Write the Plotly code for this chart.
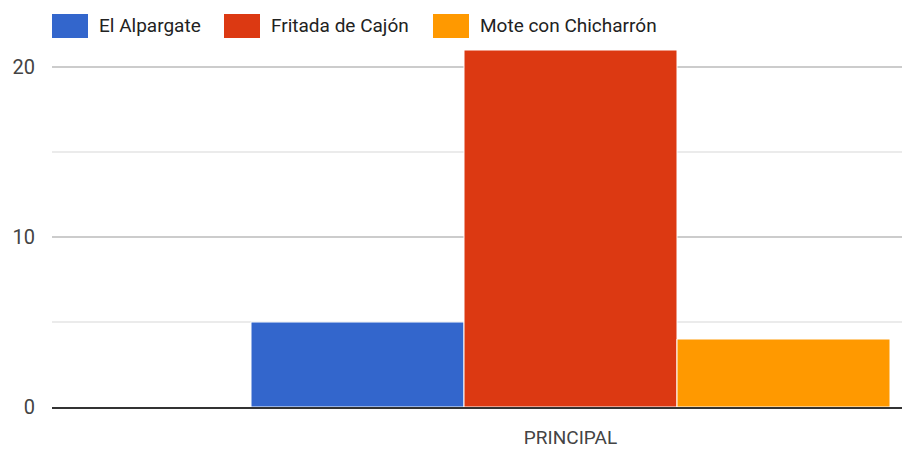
import plotly.graph_objects as go

categories = ["PRINCIPAL"]
series_names = ["El Alpargate", "Fritada de Cajón", "Mote con Chicharrón"]
el_alpargate = [5]
fritada_de_cajon = [21]
mote_con_chicharron = [4]
y_ticks = [0, 10, 20]

series_values = [el_alpargate, fritada_de_cajon, mote_con_chicharron]
colors = ["#3366cc", "#dc3912", "#ff9900"]

W, H = 902, 452
ML, MR, MT, MB = 52, 0, 0, 45
PW, PH = W - ML - MR, H - MT - MB
FONT = "Roboto, Arial, sans-serif"

fig = go.Figure()
for name, vals, col in zip(series_names, series_values, colors):
    fig.add_trace(go.Bar(
        x=categories, y=vals, name=name,
        marker=dict(color=col, line=dict(color="white", width=1)),
        showlegend=False, hoverinfo="skip",
    ))

# category placement: center of group at pixel 570.5, group width ~639px
bargap = 0.382
unit = 639 / (1 - bargap)
center_px = 570.5
xr = [-(center_px - ML) / unit, (ML + PW - center_px) / unit]

px_per_unit = 17.0
yr = [0, PH / px_per_unit]

fig.update_layout(
    width=W, height=H,
    margin=dict(l=ML, r=MR, t=MT, b=MB),
    paper_bgcolor="white", plot_bgcolor="white",
    barmode="group", bargap=bargap, bargroupgap=0,
    font=dict(family=FONT, size=19, color="#444444"),
    xaxis=dict(
        type="category", range=xr, showgrid=False,
        showline=True, linecolor="#333333", linewidth=2,
        ticks="", tickfont=dict(size=19, color="#444444"),
        ticklabelstandoff=12,
    ),
    yaxis=dict(
        range=yr, tickvals=y_ticks, showgrid=True,
        gridcolor="#cccccc", gridwidth=1.5, zeroline=False,
        ticks="", tickfont=dict(size=20, color="#444444"),
        ticklabelstandoff=16,
        minor=dict(dtick=5, showgrid=True, gridcolor="#ebebeb", gridwidth=1.5),
    ),
)

# legend drawn at top (Google-style large swatches)
legend_x = [52, 224, 433]
sw_w, sw_h, sw_top = 36, 24, 14
text_gap = 9
def px_to_paper(px, py):
    return (px - ML) / PW, 1 - (py - MT) / PH

for name, col, lx in zip(series_names, colors, legend_x):
    x0, y0 = px_to_paper(lx, sw_top)
    x1, y1 = px_to_paper(lx + sw_w, sw_top + sw_h)
    fig.add_shape(type="rect", xref="paper", yref="paper",
                  x0=x0, x1=x1, y0=y1, y1=y0,
                  fillcolor=col, line=dict(width=0), layer="above")
    tx, ty = px_to_paper(lx + sw_w + text_gap, sw_top + sw_h / 2)
    fig.add_annotation(xref="paper", yref="paper", x=tx, y=ty,
                       xanchor="left", yanchor="middle", showarrow=False,
                       text=name, font=dict(family=FONT, size=19, color="#222222"))

fig.write_html(
    "out.html",
    config={"displayModeBar": False, "staticPlot": True},
    post_script="document.body.style.margin='0';document.body.style.overflow='hidden';",
)
